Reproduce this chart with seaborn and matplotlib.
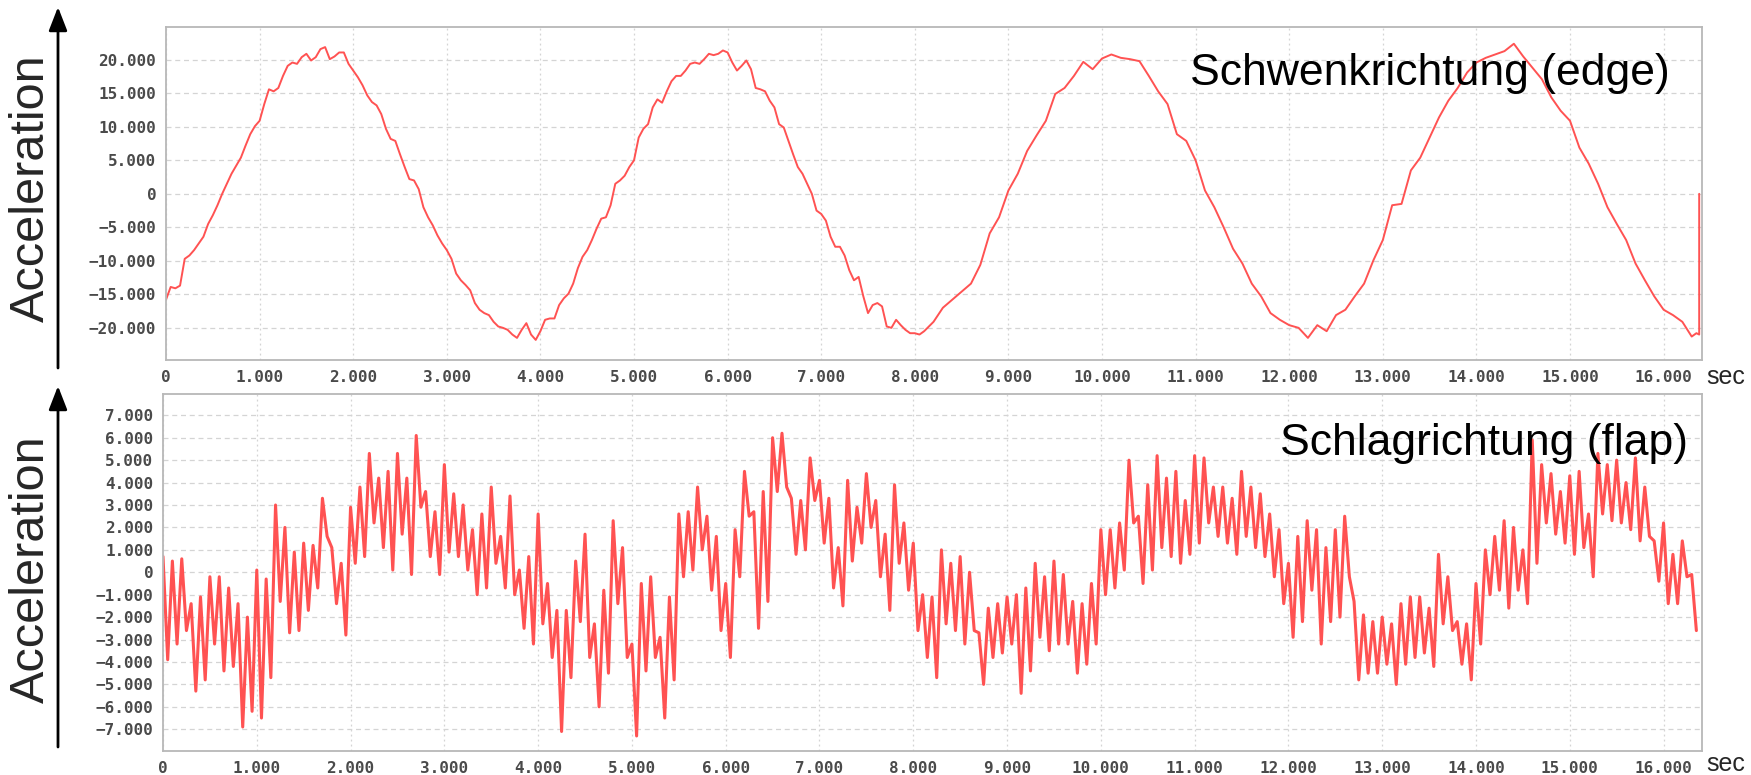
import numpy as np
import pandas as pd
import seaborn as sns
import matplotlib.pyplot as plt
from matplotlib.ticker import FuncFormatter, MultipleLocator

# === data ===
# edge direction (Schwenkrichtung), 0.05 s steps from 0 to 8.2 s
edge_a = [
    -15.8, -13.9, -14.1, -13.7, -9.7, -9.2, -8.4, -7.4, -6.4, -4.5,
    -3.2, -1.7, 0.0, 1.5, 3.0, 4.2, 5.4, 7.2, 8.9, 10.1,
    10.9, 13.4, 15.6, 15.3, 15.8, 17.6, 19.1, 19.6, 19.4, 20.4,
    20.9, 19.9, 20.4, 21.6, 21.9, 20.1, 20.5, 21.1, 21.1, 19.4,
    18.4, 17.4, 16.2, 14.7, 13.7, 13.2, 11.9, 9.7, 8.2, 7.9,
    5.9, 4.0, 2.2, 2.0, 0.7, -2.0, -3.5, -4.7, -6.2, -7.4,
    -8.4, -9.7, -11.9, -12.9, -13.6, -14.4, -16.3, -17.3, -17.8, -18.1,
    -19.1, -19.8, -20.0, -20.3, -21.0, -21.5, -20.3, -19.3, -21.0, -21.8,
    -20.5, -18.8, -18.6, -18.6, -16.6, -15.6, -14.9, -13.4, -11.1, -9.4,
    -8.4, -6.9, -5.2, -3.7, -3.5, -1.7, 1.5, 2.0, 2.7, 4.0,
    5.0, 8.4, 9.7, 10.4, 12.9, 14.1, 13.6, 15.3, 16.8, 17.6,
    17.6, 18.4, 19.4, 19.6, 19.4, 20.1, 20.9, 20.7, 20.9, 21.4,
    21.1, 19.6, 18.4, 19.1, 19.9, 18.6, 15.8, 15.6, 15.3, 13.9,
    12.9, 10.4, 9.9, 7.9, 5.9, 4.0, 3.0, 1.5, 0.0, -2.5,
    -3.0, -4.0, -6.4, -7.9, -7.9, -9.2, -11.4, -12.9, -12.4, -15.3,
    -17.8, -16.6, -16.3, -16.8, -19.8, -20.0, -18.8, -19.6, -20.3, -20.8,
    -20.8, -21.0, -20.5, -19.8, -19.1,
]
# 0.1 s steps from 8.3 to 16.3 s
edge_b = [
    -17.0, -15.8, -14.6, -13.4, -10.6, -5.9, -3.5, 0.5, 3.0, 6.4,
    8.7, 10.9, 14.9, 15.8, 17.6, 19.7, 18.6, 20.2, 20.8, 20.3,
    20.1, 19.8, 17.6, 15.3, 13.4, 8.9, 7.9, 5.0, 0.5, -2.0,
    -5.0, -8.2, -10.4, -13.4, -15.3, -17.8, -18.8, -19.6, -20.0, -21.5,
    -19.6, -20.5, -18.1, -17.3, -15.3, -13.4, -9.9, -6.9, -1.7, -1.5,
    3.5, 5.4, 8.4, 11.4, 13.9, 15.8, 18.1, 19.6, 20.3, 20.8,
    21.3, 22.4, 20.5, 18.8, 17.1, 14.4, 12.4, 10.9, 6.9, 4.5,
    1.5, -2.0, -4.5, -6.9, -10.4, -12.9, -15.3, -17.3, -18.1, -19.1, -21.3,
]
edge_tail_t = [16.35, 16.38, 16.38]
edge_tail = [-20.8, -21.0, 0.0]

# flap direction (Schlagrichtung): band top / bottom per 0.1 s window
flap_hi = [
    0.7, 0.5, 0.6, -1.4, -1.1, -0.2, -0.2, -0.7, -1.4, -2.0,
    0.1, -0.3, 3.0, 2.0, 0.9, 1.3, 1.2, 3.3, 1.1, 0.4,
    2.9, 3.8, 5.3, 4.2, 4.5, 5.3, 4.2, 6.1, 3.6, 2.7,
    4.8, 3.5, 3.0, 1.9, 2.6, 3.8, 1.6, 3.4, 0.1, 0.7,
    2.6, -0.5, -1.7, -1.7, 0.5, 1.7, -2.3, -0.8, 2.3, 1.1,
    -3.2, -0.5, -0.2, -2.9, -1.1, 2.6, 2.7, 3.8, 2.5, 1.6,
    -0.5, 1.9, 4.5, 2.7, 3.6, 6.0, 6.2, 3.3, 3.2, 5.1,
    4.1, 3.3, 1.1, 4.1, 2.9, 4.4, 3.2, 1.7, 3.9, 2.2,
    1.3, -1.0, -1.1, 1.0, 0.4, 0.7, 0.0, -2.7, -1.6, -1.4,
    -1.1, -1.0, -0.7, 0.4, -0.2, 0.5, -0.1, -1.3, -1.4, -0.5,
    1.9, 1.9, 2.2, 5.0, 2.5, 3.9, 5.2, 4.2, 4.5, 3.2,
    5.2, 5.1, 3.8, 3.8, 3.3, 4.5, 3.8, 3.5, 2.6, 1.9,
    0.4, 1.6, 2.3, 1.9, 1.1, 1.9, 2.5, -1.3, -1.9, -2.2,
    -2.0, -2.3, -1.4, -1.1, -1.1, -1.6, 0.8, -0.2, -2.2, -2.3,
    -0.5, 1.0, 1.6, 2.3, 2.0, 1.0, 5.9, 4.8, 4.4, 3.6,
    4.3, 4.5, 2.6, 5.3, 4.8, 5.0, 4.0, 5.1, 3.8, 1.4,
    2.2, 0.8, 1.4, -0.1,
]
flap_lo = [
    -3.9, -3.2, -2.6, -5.3, -4.8, -3.2, -4.4, -4.2, -6.9, -6.2,
    -6.5, -4.7, -1.3, -2.7, -2.6, -1.7, -0.7, 1.6, -1.4, -2.8,
    0.4, 0.7, 2.2, 1.1, 0.1, 1.7, -0.1, 2.9, 0.7, -0.1,
    0.9, 0.7, 0.1, -1.0, -0.7, 0.4, -0.7, -1.0, -2.5, -3.2,
    -2.3, -3.8, -7.1, -4.7, -2.2, -3.8, -6.0, -4.5, -1.4, -3.8,
    -7.3, -4.4, -3.8, -6.5, -4.8, -0.2, 0.1, 1.0, -0.8, -2.6,
    -3.8, -0.2, 2.5, -2.5, -1.3, 3.6, 3.8, 0.8, 1.0, 3.2,
    1.3, -0.7, -1.5, 0.5, 1.3, 2.0, -0.2, -1.7, 0.4, -0.8,
    -2.6, -3.8, -4.7, -2.3, -2.6, -3.2, -2.6, -5.0, -3.8, -3.6,
    -3.2, -5.4, -4.4, -2.9, -3.5, -3.2, -3.2, -4.5, -4.1, -3.2,
    -1.0, -0.7, 0.1, 2.2, -0.5, 0.1, 1.1, 0.7, 0.4, 0.8,
    1.3, 2.2, 1.6, 1.3, 0.8, 1.6, 1.1, 0.7, -0.2, -1.4,
    -2.9, -2.2, -0.8, -3.2, -2.2, -2.0, -0.2, -4.8, -4.5, -4.5,
    -4.1, -5.0, -4.1, -3.8, -3.6, -4.2, -2.3, -2.6, -4.1, -4.8,
    -3.2, -1.0, -0.8, -1.6, -0.8, -1.4, 0.4, 2.2, 1.7, 1.3,
    0.8, 1.1, -0.2, 2.6, 2.3, 2.2, 1.9, 1.4, 1.6, -0.4,
    -1.4, -1.4, -0.2, -2.6,
]

edge_label = "Schwenkrichtung (edge)"
flap_label = "Schlagrichtung (flap)"
y_label = "Acceleration"
x_unit = "sec"

LINE_COLOR = "#ff5252"

# === build the frames ===
edge_t = np.concatenate([
    np.arange(len(edge_a)) * 0.05,
    8.3 + np.arange(len(edge_b)) * 0.1,
    edge_tail_t,
])
edge_df = pd.DataFrame({"t": edge_t, "acc": edge_a + edge_b + edge_tail})

flap_vals = np.column_stack([flap_hi, flap_lo]).ravel()
flap_df = pd.DataFrame({"t": np.arange(len(flap_vals)) * 0.05, "acc": flap_vals})

sns.set_style("white")
plt.rcParams["font.family"] = ["Liberation Sans", "DejaVu Sans"]

W, H = 1751, 775
fig = plt.figure(figsize=(W / 100, H / 100), dpi=100)
ax1 = fig.add_axes([166 / W, 1 - 360 / H, (1702 - 166) / W, (360 - 27) / H])
ax2 = fig.add_axes([163 / W, 1 - 751 / H, (1702 - 163) / W, (751 - 394) / H])


def thousand_fmt(v, pos):
    if abs(v) < 1e-9:
        return "0"
    return f"{v:.3f}".replace("-", "\u2212")


def style_axes(ax, ylim, ystep):
    ax.set_xlim(0, 16.41)
    ax.set_ylim(*ylim)
    ax.xaxis.set_major_locator(MultipleLocator(1))
    ax.yaxis.set_major_locator(MultipleLocator(ystep))
    ax.xaxis.set_major_formatter(FuncFormatter(thousand_fmt))
    ax.yaxis.set_major_formatter(FuncFormatter(thousand_fmt))
    ax.grid(True, axis="x", color="#d4d4d4", linestyle=(0, (1.5, 2.5)), linewidth=0.9)
    ax.grid(True, axis="y", color="#d4d4d4", linestyle=(0, (4, 3)), linewidth=0.9)
    ax.set_axisbelow(True)
    for s in ax.spines.values():
        s.set_color("#b8b8b8")
        s.set_linewidth(1.3)
    ax.tick_params(axis="both", length=3, color="#a0a0a0", labelcolor="#4a4a4a",
                   labelsize=11.5, pad=4)
    for lab in ax.get_xticklabels() + ax.get_yticklabels():
        lab.set_family("DejaVu Sans Mono")
        lab.set_weight("bold")
    ax.set_xlabel("")
    ax.set_ylabel("")
    if ax.get_legend():
        ax.get_legend().remove()


sns.lineplot(data=edge_df, x="t", y="acc", ax=ax1, color=LINE_COLOR,
             linewidth=1.4, estimator=None, sort=False)
sns.lineplot(data=flap_df, x="t", y="acc", ax=ax2, color=LINE_COLOR,
             linewidth=2.2, estimator=None, sort=False)

style_axes(ax1, (-24.8, 24.9), 5)
style_axes(ax2, (-7.97, 7.95), 1)

# panel titles inside the plots
fig.text(1670, H - 85, edge_label, transform=None, fontsize=32,
         ha="right", va="baseline", color="black")
fig.text(1688, H - 455, flap_label, transform=None, fontsize=32,
         ha="right", va="baseline", color="black")

# axis unit on the right
fig.text(1706, H - 377, x_unit, transform=None, fontsize=18, ha="left", va="center")
fig.text(1706, H - 764, x_unit, transform=None, fontsize=18, ha="left", va="center")

# y labels with upward arrows
for y_lo, y_hi, y_mid in [(368, 7, 188), (747, 386, 569)]:
    fig.text(31, H - y_mid, y_label, transform=None, fontsize=35,
             rotation=90, ha="center", va="center")
    ax1.annotate("", xy=(58, H - y_hi), xytext=(58, H - y_lo),
                 xycoords="figure pixels", textcoords="figure pixels",
                 arrowprops=dict(arrowstyle="-|>,head_length=0.9,head_width=0.35",
                                 color="black", lw=2, mutation_scale=16,
                                 shrinkA=0, shrinkB=0),
                 annotation_clip=False)

fig.savefig("out.png", dpi=100)
